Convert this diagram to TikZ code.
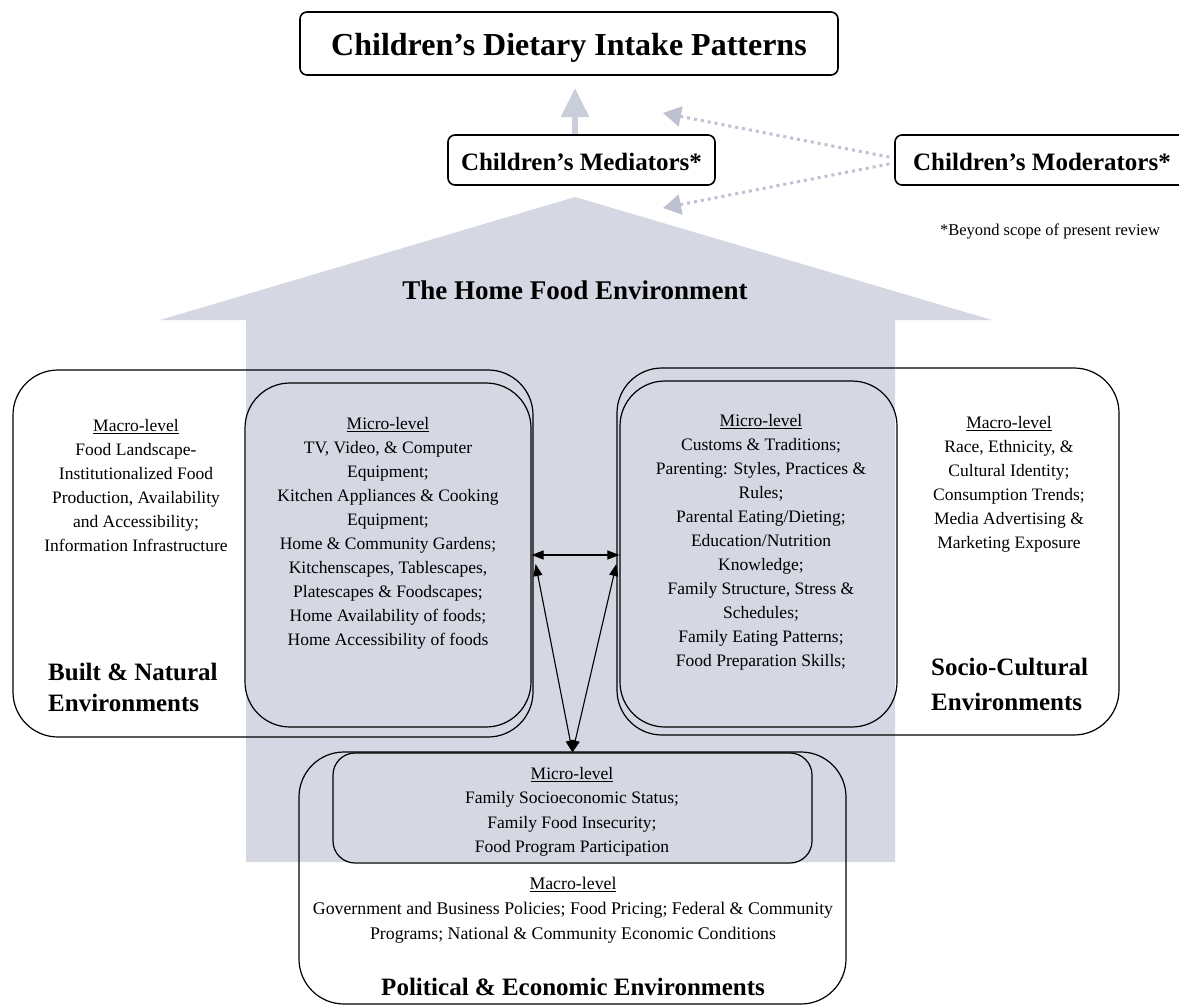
\documentclass[tikz,border=0pt]{standalone}
\usepackage{fontspec}
\setmainfont{Liberation Serif}
\usetikzlibrary{arrows.meta,calc}
\definecolor{housegray}{RGB}{213,215,227}
\definecolor{arrowgray}{RGB}{202,205,218}
\definecolor{dotgray}{RGB}{190,193,207}

\begin{document}
\begin{tikzpicture}[x=1pt,y=-1pt,
  topbox/.style={draw, line width=1.6pt, rounded corners=7pt, inner sep=0pt},
  envbox/.style={draw, line width=1.2pt, inner sep=0pt},
  bodytext/.style={align=center, inner sep=0pt, anchor=north, font=\fontsize{17.5}{24}\selectfont},
  envlabel/.style={align=left, inner sep=0pt, anchor=north west},
  link/.style={line width=1.1pt, {Triangle[length=12pt,width=9pt]}-{Triangle[length=12pt,width=9pt]}},
  dotlink/.style={dotgray, line width=3pt, dash pattern=on 3pt off 4pt, shorten <=5pt,
    -{Triangle[length=18pt,width=20pt]}},
]
\useasboundingbox (0,0) rectangle (1179,1007);

% the house: roof and body
\fill[housegray] (575,197) -- (992,320) -- (895,320) -- (895,862) -- (246,862)
  -- (246,320) -- (160,320) -- cycle;
\node[font=\fontsize{27}{30}\selectfont\bfseries, anchor=base] (homelabel) at (575,299) {The Home Food Environment};

% outcome, mediators and moderators
\node[topbox, minimum width=538pt, minimum height=63pt, text height=24pt, text depth=1pt,
  font=\fontsize{32}{36}\selectfont\bfseries] (diet) at (569,43.5) {Children’s Dietary Intake Patterns};
\node[topbox, minimum width=267pt, minimum height=50pt, text height=20pt, text depth=0pt,
  font=\fontsize{25}{30}\selectfont\bfseries] (med) at (581.5,160) {Children’s Mediators*};
\node[topbox, minimum width=294pt, minimum height=50pt, text height=20pt, text depth=0pt,
  font=\fontsize{25}{30}\selectfont\bfseries] (mod) at (1042,160) {Children’s Moderators*};
\node[font=\fontsize{16.5}{20}\selectfont, anchor=base] (note) at (1050,235) {*Beyond scope of present review};

\coordinate (uptip) at (575,88);
\draw[arrowgray, line width=6pt, -{Triangle[length=29pt,width=27pt]}] (uptip |- med.north) -- (uptip);
\coordinate (modtipA) at (663,113);
\coordinate (modtipB) at (663,208);
\draw[dotlink] ([yshift=2pt]mod.west) -- (modtipA);
\draw[dotlink] ([yshift=-3pt]mod.west) -- (modtipB);

% environment boxes
\node[envbox, rounded corners=45pt, minimum width=520pt, minimum height=367pt] (lout) at (273,553.5) {};
\node[envbox, rounded corners=45pt, minimum width=286pt, minimum height=344pt] (lin) at (388,555) {};
\node[envbox, rounded corners=45pt, minimum width=502pt, minimum height=367pt] (rout) at (868,551.5) {};
\node[envbox, rounded corners=45pt, minimum width=277pt, minimum height=346pt] (rin) at (758.5,554) {};
\node[envbox, rounded corners=45pt, minimum width=547pt, minimum height=252pt] (bout) at (572.5,878) {};
\node[envbox, rounded corners=22pt, minimum width=479pt, minimum height=110pt] (bin) at (572.5,808) {};

% links between the micro-level boxes
\draw[link] (lin.east) -- (rin.west |- lin.east);
\draw[link] ($(lin.east)+(4,9)$) -- (bin.north);
\draw[link] ($(rin.west)+(-3,10)$) -- (bin.north);

% built & natural environments
\node[bodytext] (lmacro) at (136,419) {\underline{Macro-level}\\Food Landscape-\\Institutionalized Food\\Production, Availability\\and Accessibility;\\Information Infrastructure};
\node[bodytext] (lmicro) at (388,417) {\underline{Micro-level}\\TV, Video, \& Computer\\Equipment;\\Kitchen Appliances \& Cooking\\Equipment;\\Home \& Community Gardens;\\Kitchenscapes, Tablescapes,\\Platescapes \& Foodscapes;\\Home Availability of foods;\\Home Accessibility of foods};
\node[envlabel, font=\fontsize{25}{31}\selectfont\bfseries] (builtlabel) at (48,663) {Built \& Natural\\Environments};

% socio-cultural environments
\node[bodytext] (rmicro) at (761,414) {\underline{Micro-level}\\Customs \& Traditions;\\Parenting: Styles, Practices \&\\Rules;\\Parental Eating/Dieting;\\Education/Nutrition\\Knowledge;\\Family Structure, Stress \&\\Schedules;\\Family Eating Patterns;\\Food Preparation Skills;};
\node[bodytext] (rmacro) at (1009,416) {\underline{Macro-level}\\Race, Ethnicity, \&\\Cultural Identity;\\Consumption Trends;\\Media Advertising \&\\Marketing Exposure};
\node[envlabel, font=\fontsize{25}{35}\selectfont\bfseries] (sociolabel) at (931,658) {Socio-Cultural\\Environments};

% political & economic environments
\node[bodytext, font=\fontsize{17.5}{24.5}\selectfont] (bmicro) at (572,767) {\underline{Micro-level}\\Family Socioeconomic Status;\\Family Food Insecurity;\\Food Program Participation};
\node[bodytext, font=\fontsize{17.8}{25}\selectfont] (bmacro) at (573,877) {\underline{Macro-level}\\Government and Business Policies; Food Pricing; Federal \& Community\\Programs; National \& Community Economic Conditions};
\node[font=\fontsize{25}{30}\selectfont\bfseries, anchor=base] (politlabel) at (573,995) {Political \& Economic Environments};
\end{tikzpicture}
\end{document}
